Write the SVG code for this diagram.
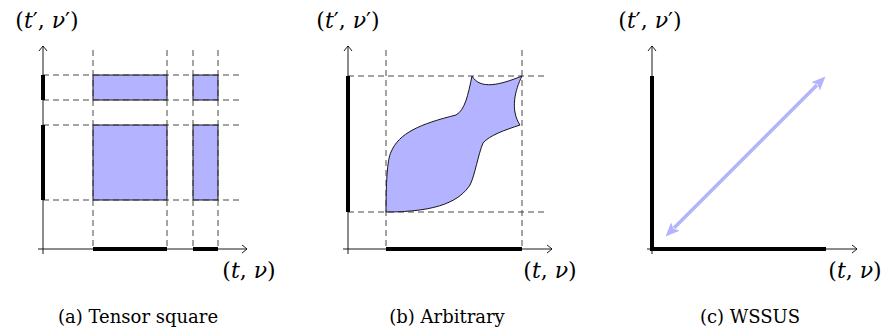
<svg xmlns="http://www.w3.org/2000/svg" width="883" height="329" viewBox="0 0 883 329">
<defs>
<marker id="ax" viewBox="-6 -5 8 10" refX="0" refY="0" markerWidth="8" markerHeight="10" markerUnits="userSpaceOnUse" orient="auto">
<path d="M-5,-4 Q-1,-1 0,0 Q-1,1 -5,4" fill="none" stroke="#000" stroke-width="0.9"/>
</marker>
<marker id="bh" viewBox="0 -6 14 12" refX="2" refY="0" markerWidth="14" markerHeight="12" markerUnits="userSpaceOnUse" orient="auto-start-reverse">
<path d="M0,-6 L14,0 L0,6 L3,0 Z" fill="#b3b3ff"/>
</marker>
</defs>
<style>
.axis{stroke:#000;stroke-width:0.9;fill:none;marker-end:url(#ax)}
.dash{stroke:#333;stroke-width:0.9;stroke-dasharray:6 4;fill:none}
.thick{stroke:#000;stroke-width:4;fill:none}
.reg{fill:#b3b3ff;stroke:#000;stroke-width:0.9}
</style>
<g id="panel-a">
<rect class="reg" x="93" y="75" width="74" height="25"/>
<rect class="reg" x="193" y="75" width="25" height="25"/>
<rect class="reg" x="93" y="125" width="74" height="75"/>
<rect class="reg" x="193" y="125" width="25" height="75"/>
<path class="dash" d="M93,50V249M167,50V249M193,50V249M218,50V249"/>
<path class="dash" d="M43,75H243M43,100H243M43,125H243M43,200H243"/>
<path class="axis" d="M38,249H247"/>
<path class="axis" d="M43,254V46"/>
<path class="thick" d="M43,75V100M43,125V200M93,249H167M193,249H218"/>
<text x="47" y="28" font-family="'DejaVu Serif', serif" font-size="22" text-anchor="middle">(<tspan font-style="italic">t</tspan>′, <tspan font-style="italic">ν</tspan>′)</text>
<text x="249" y="278" font-family="'DejaVu Serif', serif" font-size="22" text-anchor="middle">(<tspan font-style="italic">t</tspan>, <tspan font-style="italic">ν</tspan>)</text>
<text x="138" y="323" font-family="'DejaVu Serif', serif" font-size="18" text-anchor="middle">(a) Tensor square</text>
</g>
<g id="panel-b">
<path class="reg" d="M386,212 C386,185 387,160 391,152 C399,133 420,124 456,115 C465,110 468,95 472,76 C480,90 500,85 522,76 C515,90 510,110 520,125 C505,130 490,135 483,143 C478,155 475,175 470,185 C460,200 440,212 386,212 Z"/>
<path class="dash" d="M386,50V249M522,50V249"/>
<path class="dash" d="M348,76H546M348,212H546"/>
<path class="axis" d="M343,249H552"/>
<path class="axis" d="M348,254V46"/>
<path class="thick" d="M348,76V212M386,249H522"/>
<text x="348" y="28" font-family="'DejaVu Serif', serif" font-size="22" text-anchor="middle">(<tspan font-style="italic">t</tspan>′, <tspan font-style="italic">ν</tspan>′)</text>
<text x="550" y="278" font-family="'DejaVu Serif', serif" font-size="22" text-anchor="middle">(<tspan font-style="italic">t</tspan>, <tspan font-style="italic">ν</tspan>)</text>
<text x="447" y="323" font-family="'DejaVu Serif', serif" font-size="18" text-anchor="middle">(b) Arbitrary</text>
</g>
<g id="panel-c">
<path class="axis" d="M647,249H857"/>
<path class="axis" d="M652,254V46"/>
<path class="thick" d="M652,76V249H826"/>
<path d="M674,228 L817,85" stroke="#b3b3ff" stroke-width="3.5" fill="none" marker-start="url(#bh)" marker-end="url(#bh)"/>
<text x="650" y="28" font-family="'DejaVu Serif', serif" font-size="22" text-anchor="middle">(<tspan font-style="italic">t</tspan>′, <tspan font-style="italic">ν</tspan>′)</text>
<text x="855" y="278" font-family="'DejaVu Serif', serif" font-size="22" text-anchor="middle">(<tspan font-style="italic">t</tspan>, <tspan font-style="italic">ν</tspan>)</text>
<text x="750" y="323" font-family="'DejaVu Serif', serif" font-size="18" text-anchor="middle">(c) WSSUS</text>
</g>
</svg>
